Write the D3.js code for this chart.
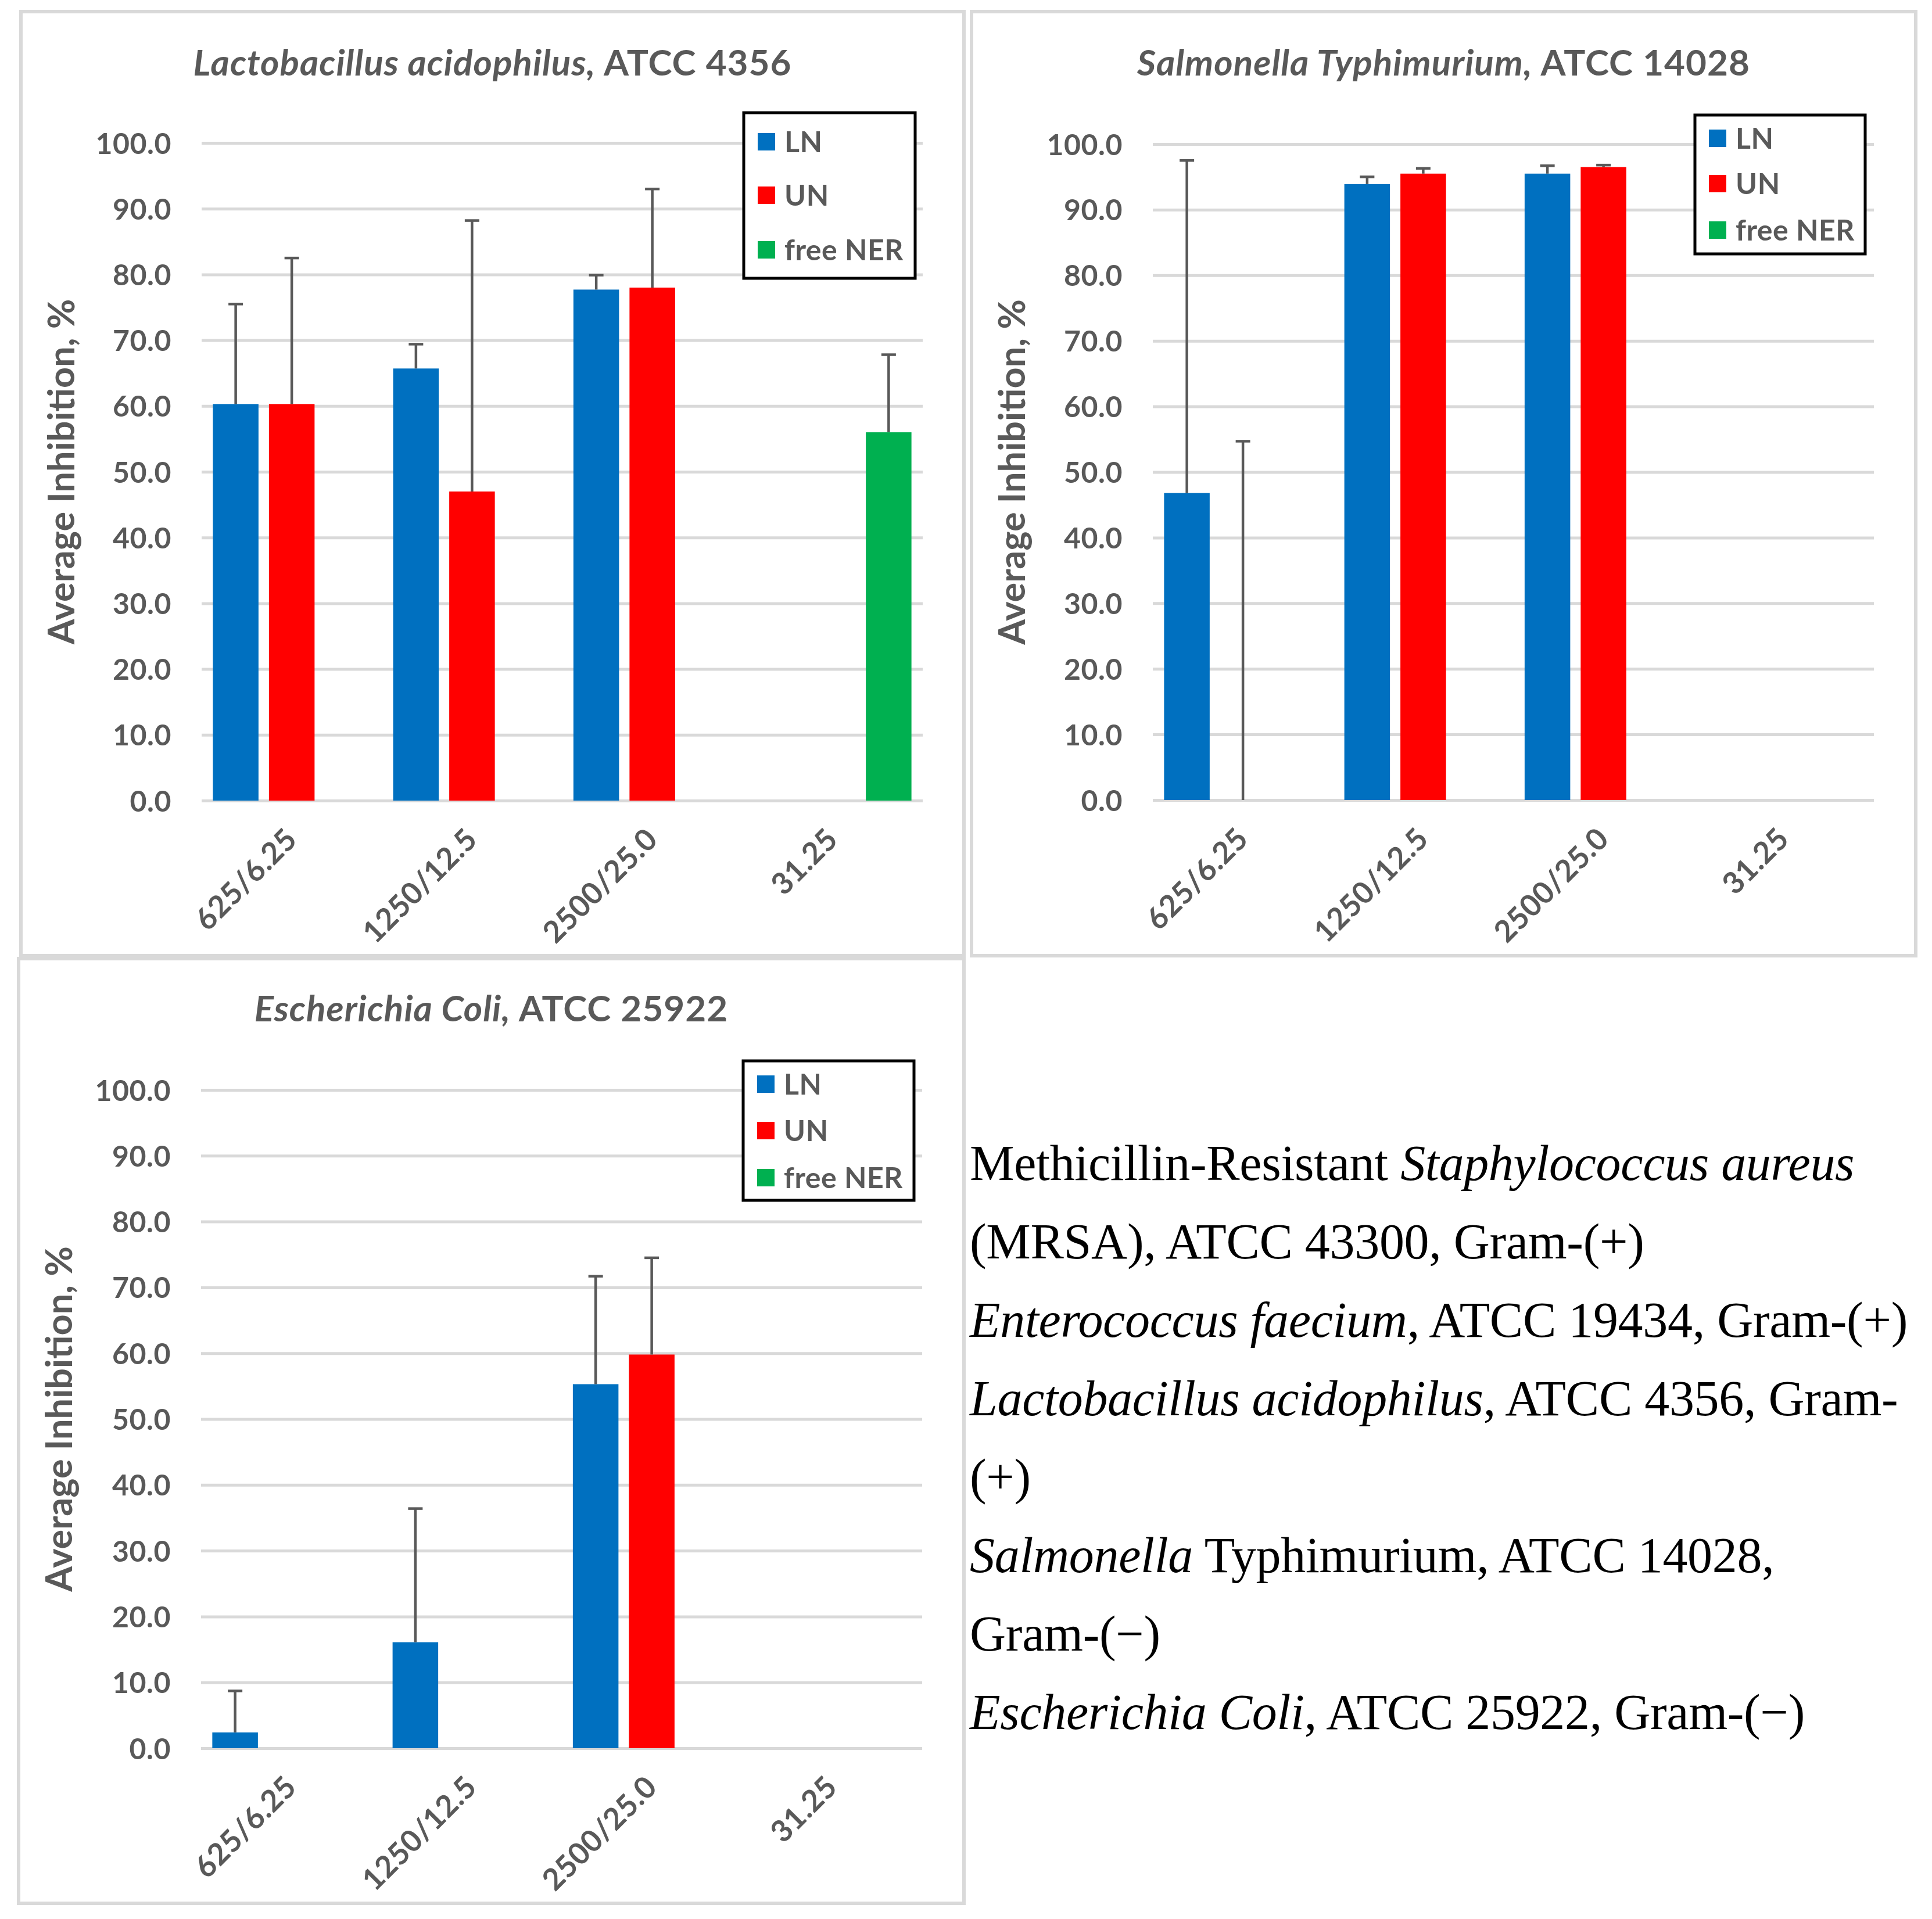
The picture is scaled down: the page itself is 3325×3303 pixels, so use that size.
<!DOCTYPE html>
<html>
<head>
<meta charset="utf-8">
<script src="https://cdn.jsdelivr.net/npm/d3@7"></script>
<style>
  html, body { margin: 0; padding: 0; background: #fff; }
  svg { display: block; }
</style>
</head>
<body>
<svg id="chart" width="3325" height="3303"></svg>
<script>
// ---------------- DATA ----------------
const categories = ["625/6.25", "1250/12.5", "2500/25.0", "31.25"];
const seriesNames = ["LN", "UN", "free NER"];
const yTickValues = [0, 10, 20, 30, 40, 50, 60, 70, 80, 90, 100];

// Lactobacillus acidophilus, ATCC 4356
const lactoLN      = [60.3, 65.7, 77.7, null];
const lactoUN      = [60.3, 47.0, 78.0, null];
const lactoNER     = [null, null, null, 56.0];
const lactoLNErr   = [15.2, 3.7, 2.2, null];
const lactoUNErr   = [22.2, 41.2, 15.0, null];
const lactoNERErr  = [null, null, null, 11.8];

// Salmonella Typhimurium, ATCC 14028
const salmLN       = [46.8, 93.9, 95.5, null];
const salmUN       = [0.0, 95.5, 96.5, null];
const salmNER      = [null, null, null, null];
const salmLNErr    = [50.7, 1.1, 1.2, null];
const salmUNErr    = [54.7, 0.8, 0.3, null];
const salmNERErr   = [null, null, null, null];

// Escherichia Coli, ATCC 25922
const coliLN       = [2.4, 16.1, 55.3, null];
const coliUN       = [0.0, 0.0, 59.8, null];
const coliNER      = [null, null, null, null];
const coliLNErr    = [6.3, 20.3, 16.4, null];
const coliUNErr    = [0.0, 0.0, 14.7, null];
const coliNERErr   = [null, null, null, null];

// Right-hand text block (segments: [text, italic])
const noteLines = [
  [["Methicillin-Resistant ", false], ["Staphylococcus aureus", true]],
  [["(MRSA), ATCC 43300, Gram-(+)", false]],
  [["Enterococcus faecium", true], [", ATCC 19434, Gram-(+)", false]],
  [["Lactobacillus acidophilus", true], [", ATCC 4356, Gram-", false]],
  [["(+)", false]],
  [["Salmonella", true], [" Typhimurium, ATCC 14028,", false]],
  [["Gram-(\u2212)", false]],
  [["Escherichia Coli", true], [", ATCC 25922, Gram-(\u2212)", false]]
];

// ---------------- STYLE / LAYOUT ----------------
const seriesColors = ["#0070C0", "#FF0000", "#00B050"];
const textGray = "#595959";
const gridGray = "#D9D9D9";
const sansFont = "Lato, 'Open Sans', sans-serif";
const serifFont = "'Liberation Serif', 'DejaVu Serif', serif";

const panels = [
  {
    title: [["Lactobacillus acidophilus,", true], [" ATCC 4356", false]],
    values: [lactoLN, lactoUN, lactoNER],
    errors: [lactoLNErr, lactoUNErr, lactoNERErr],
    frame: { x0: 36, y0: 20, x1: 1659, y1: 1645 },
    plot: { x0: 347, x1: 1588, yBottom: 1378, yTop: 246 },
    titleY: 130,
    axisTitleX: 128,
    legend: { x0: 1280, y0: 194, x1: 1575, y1: 479, rows: [244, 336, 430] }
  },
  {
    title: [["Salmonella Typhimurium,", true], [" ATCC 14028", false]],
    values: [salmLN, salmUN, salmNER],
    errors: [salmLNErr, salmUNErr, salmNERErr],
    frame: { x0: 1672, y0: 20, x1: 3297, y1: 1645 },
    plot: { x0: 1984, x1: 3225, yBottom: 1377, yTop: 248 },
    titleY: 130,
    axisTitleX: 1764,
    legend: { x0: 2917, y0: 198, x1: 3210, y1: 437, rows: [238, 316, 396] }
  },
  {
    title: [["Escherichia Coli,", true], [" ATCC 25922", false]],
    values: [coliLN, coliUN, coliNER],
    errors: [coliLNErr, coliUNErr, coliNERErr],
    frame: { x0: 32, y0: 1650, x1: 1659, y1: 3276 },
    plot: { x0: 346, x1: 1587, yBottom: 3009, yTop: 1876 },
    titleY: 1758,
    axisTitleX: 124,
    legend: { x0: 1279, y0: 1826, x1: 1573, y1: 2066, rows: [1866, 1946, 2027] }
  }
];

const svg = d3.select("#chart");
svg.append("rect").attr("width", 3325).attr("height", 3303).attr("fill", "#fff");

panels.forEach(p => {
  const g = svg.append("g");

  // frame
  g.append("rect")
    .attr("x", p.frame.x0).attr("y", p.frame.y0)
    .attr("width", p.frame.x1 - p.frame.x0).attr("height", p.frame.y1 - p.frame.y0)
    .attr("fill", "#fff").attr("stroke", gridGray).attr("stroke-width", 6);

  const x = d3.scaleBand().domain(categories).range([p.plot.x0, p.plot.x1]);
  const step = x.step();
  const groupStep = 96.5;
  const side = (step - 3 * groupStep) / 2;
  const xs = d3.scaleBand().domain(seriesNames).range([side, step - side])
    .paddingInner(18 / groupStep).paddingOuter(9 / groupStep);
  const y = d3.scaleLinear().domain([0, 100]).range([p.plot.yBottom, p.plot.yTop]);

  // gridlines + y tick labels
  const yAxis = d3.axisLeft(y).tickValues(yTickValues).tickFormat(d3.format(".1f"))
    .tickSize(-(p.plot.x1 - p.plot.x0)).tickPadding(52);
  const ax = g.append("g").attr("transform", `translate(${p.plot.x0},0)`).call(yAxis);
  ax.select(".domain").remove();
  ax.selectAll(".tick line").attr("stroke", gridGray).attr("stroke-width", 5);
  ax.selectAll(".tick text")
    .attr("fill", textGray).attr("font-family", sansFont).attr("font-weight", 700)
    .attr("font-size", 50).attr("letter-spacing", 0.5).attr("dy", "0.36em");

  // bars
  seriesNames.forEach((s, si) => {
    const data = categories.map((c, ci) => ({ c, v: p.values[si][ci], e: p.errors[si][ci] }));
    g.append("g").selectAll("rect").data(data.filter(d => d.v !== null && d.v > 0)).join("rect")
      .attr("x", d => x(d.c) + xs(s))
      .attr("width", xs.bandwidth())
      .attr("y", d => y(d.v))
      .attr("height", d => y(0) - y(d.v))
      .attr("fill", seriesColors[si]);
  });

  // error bars (plus direction)
  seriesNames.forEach((s, si) => {
    const data = categories.map((c, ci) => ({ c, v: p.values[si][ci], e: p.errors[si][ci] }))
      .filter(d => d.v !== null && d.e !== null && d.e > 0);
    const eg = g.append("g").attr("stroke", textGray).attr("stroke-width", 4.5).attr("fill", "none");
    const cx = d => x(d.c) + xs(s) + xs.bandwidth() / 2;
    eg.selectAll("line.stem").data(data).join("line").attr("class", "stem")
      .attr("x1", cx).attr("x2", cx)
      .attr("y1", d => y(d.v)).attr("y2", d => y(d.v + d.e));
    eg.selectAll("line.cap").data(data).join("line").attr("class", "cap")
      .attr("x1", d => cx(d) - 12.5).attr("x2", d => cx(d) + 12.5)
      .attr("y1", d => y(d.v + d.e)).attr("y2", d => y(d.v + d.e));
  });

  // x labels
  g.append("g").selectAll("text").data(categories).join("text")
    .attr("transform", d => `translate(${x(d) + step / 2 + 12},${p.plot.yBottom + 70}) rotate(-45)`)
    .attr("text-anchor", "end")
    .attr("fill", textGray).attr("font-family", sansFont).attr("font-weight", 700)
    .attr("font-size", 52).attr("letter-spacing", 0.5)
    .text(d => d);

  // title
  const t = g.append("text")
    .attr("x", (p.frame.x0 + p.frame.x1) / 2).attr("y", p.titleY)
    .attr("text-anchor", "middle")
    .attr("fill", textGray).attr("font-family", sansFont).attr("font-weight", 700)
    .attr("font-size", 62).attr("letter-spacing", 1);
  p.title.forEach(([txt, it]) => t.append("tspan").attr("font-style", it ? "italic" : "normal").text(txt));

  // axis title
  g.append("text")
    .attr("transform", `translate(${p.axisTitleX},${(p.plot.yBottom + p.plot.yTop) / 2}) rotate(-90)`)
    .attr("text-anchor", "middle")
    .attr("fill", textGray).attr("font-family", sansFont).attr("font-weight", 700)
    .attr("font-size", 63)
    .text("Average Inhibition, %");

  // legend
  const L = p.legend;
  const lg = g.append("g");
  lg.append("rect").attr("x", L.x0).attr("y", L.y0)
    .attr("width", L.x1 - L.x0).attr("height", L.y1 - L.y0)
    .attr("fill", "#fff").attr("stroke", "#000").attr("stroke-width", 5);
  seriesNames.forEach((s, si) => {
    lg.append("rect").attr("x", L.x0 + 24).attr("y", L.rows[si] - 15)
      .attr("width", 30).attr("height", 30).attr("fill", seriesColors[si]);
    lg.append("text").attr("x", L.x0 + 70).attr("y", L.rows[si])
      .attr("dy", "0.36em")
      .attr("fill", textGray).attr("font-family", sansFont).attr("font-weight", 700)
      .attr("font-size", 50).attr("letter-spacing", 0.5)
      .text(s);
  });
});

// right-hand note text
const noteX = 1669, noteY0 = 2031, noteStep = 135, noteSize = 86, noteTargetWidth = 1614;
const notes = svg.append("g").attr("font-family", serifFont).attr("font-size", noteSize).attr("fill", "#000");
const noteTexts = noteLines.map((segs, i) => {
  const t = notes.append("text").attr("x", noteX).attr("y", noteY0 + i * noteStep);
  segs.forEach(([txt, it]) => t.append("tspan").attr("font-style", it ? "italic" : "normal").text(txt));
  return t;
});
// widen letter spacing so the longest line matches the reference width
const refNode = noteTexts[2].node();
const natural = refNode.getComputedTextLength();
const nChars = noteLines[2].map(s => s[0]).join("").length;
const ls = (noteTargetWidth - natural) / nChars;
notes.attr("letter-spacing", ls);
</script>
</body>
</html>
